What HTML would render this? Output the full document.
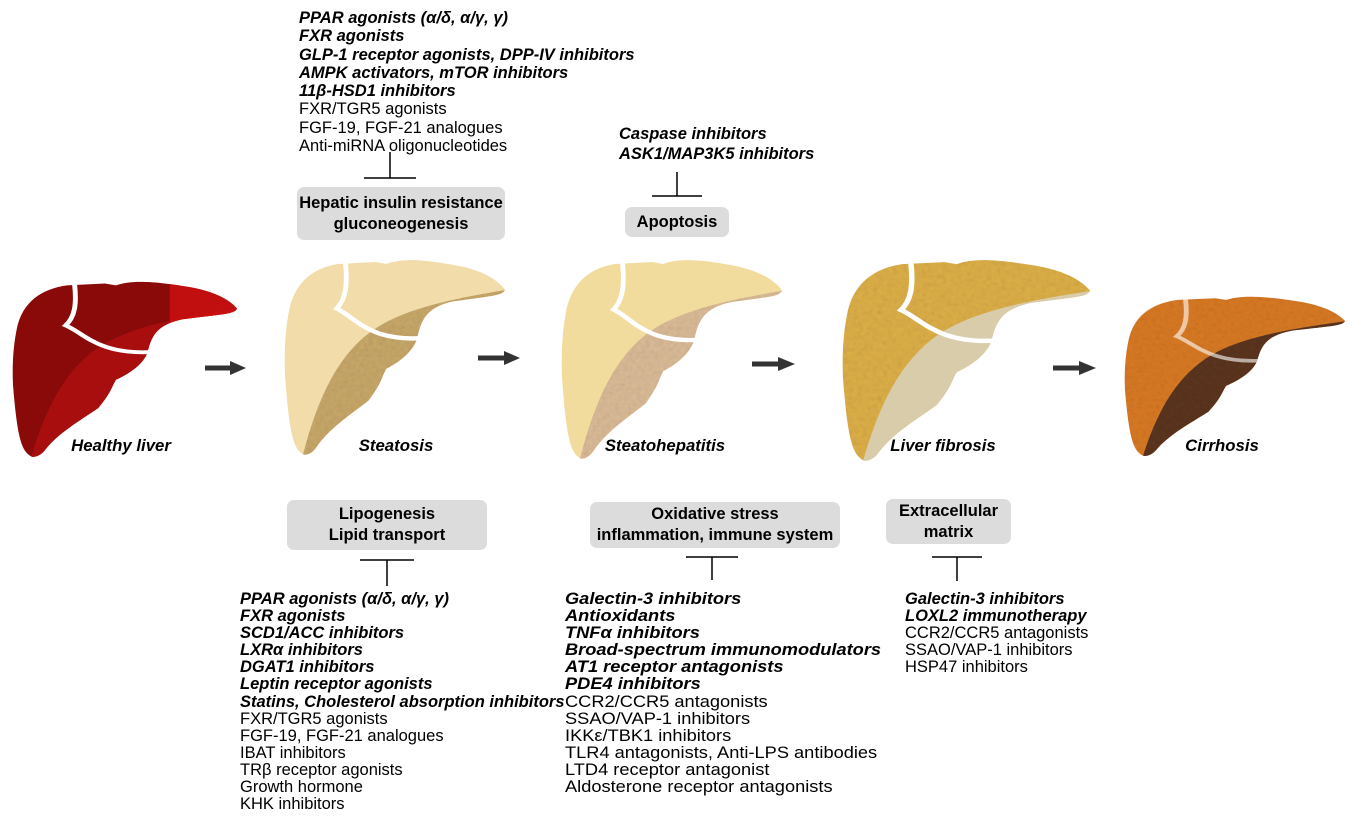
<!DOCTYPE html>
<html><head><meta charset="utf-8"><style>
body{margin:0;background:#fff;width:1363px;height:824px;position:relative;overflow:hidden;font-family:"Liberation Sans",Arial,sans-serif;color:#000}
.l{position:absolute;font-size:16.5px;line-height:17.5px;white-space:nowrap}
.b{font-weight:bold;font-style:italic}
.box{position:absolute;background:#dcdcdc;border-radius:7px;font-weight:bold;font-size:16.5px;line-height:21px;text-align:center;display:flex;align-items:center;justify-content:center;white-space:nowrap}
.lab{position:absolute;font-weight:bold;font-style:italic;font-size:16.8px;transform:translateX(-50%);white-space:nowrap}
</style></head><body>
<svg width="1363" height="824" style="position:absolute;left:0;top:0">
<defs>
<path id="lv" d="M16,280 C40,120 130,50 240,30 L410,20 L460,30 C520,5 600,0 790,40 C880,60 960,100 1000,160 C990,190 950,190 760,220 C650,250 620,300 600,410 C580,470 530,520 460,560 C440,600 440,630 380,720 C300,790 200,860 140,960 C120,990 90,1000 80,990 C40,960 20,900 0,590 C-5,450 5,350 16,280 Z"/>
<clipPath id="cl"><use href="#lv"/></clipPath>
<path id="low" d="M80,1000 C150,700 250,450 450,330 C600,240 800,200 1010,160 L1010,1010 L0,1010 Z"/>
<g id="lig"><path d="M275,25 C285,140 275,210 235,255 C320,300 380,420 620,405" fill="none" stroke="#fff" stroke-width="22"/></g>
<filter id="tx"><feTurbulence type="fractalNoise" baseFrequency="0.05" numOctaves="2" result="n"/><feColorMatrix type="saturate" values="0"/><feComponentTransfer><feFuncA type="linear" slope="0.35"/></feComponentTransfer><feComposite in2="SourceGraphic" operator="in"/><feBlend in2="SourceGraphic" mode="multiply"/></filter>
</defs>
<g transform="translate(13,280) scale(0.224,0.178)">
<use href="#lv" fill="#8a0a0a"/><g clip-path="url(#cl)"><use href="#low" fill="#a80e0e"/><rect x="700" y="0" width="320" height="250" fill="#d81010" opacity=".7"/></g><use href="#lig"/></g>
<g transform="translate(285,258) scale(0.22,0.198)">
<use href="#lv" fill="#f1dcaa"/><g clip-path="url(#cl)"><use href="#low" fill="#c9a96a" filter="url(#tx)"/></g><use href="#lig"/></g>
<g transform="translate(562,258) scale(0.22,0.202)">
<use href="#lv" fill="#f1dc9e"/><g clip-path="url(#cl)"><use href="#low" fill="#dcbc98" filter="url(#tx)"/></g><use href="#lig"/></g>
<g transform="translate(843,258) scale(0.247,0.204)">
<use href="#lv" fill="#deb048" filter="url(#tx)"/><g clip-path="url(#cl)"><use href="#low" fill="#d9ccaa"/></g><use href="#lig"/></g>
<g transform="translate(1125,295) scale(0.22,0.162)">
<use href="#lv" fill="#d97a25" filter="url(#tx)"/><g clip-path="url(#cl)"><use href="#low" fill="#5c3520" filter="url(#tx)"/></g><use href="#lig" opacity=".6"/></g>
<g fill="#333" stroke="#333">
<line x1="205" y1="368" x2="232" y2="368" stroke-width="5"/><polygon points="230,361 246,368 230,375" stroke="none"/>
<line x1="478" y1="358" x2="506" y2="358" stroke-width="5"/><polygon points="504,351 520,358 504,365" stroke="none"/>
<line x1="752" y1="364" x2="780" y2="364" stroke-width="5"/><polygon points="778,357 795,364 778,371" stroke="none"/>
<line x1="1053" y1="368" x2="1081" y2="368" stroke-width="5"/><polygon points="1079,361 1096,368 1079,375" stroke="none"/>
</g>
<g stroke="#000" stroke-width="1.5">
<line x1="390" y1="152" x2="390" y2="178"/><line x1="364" y1="178" x2="416" y2="178"/>
<line x1="677" y1="172" x2="677" y2="196"/><line x1="652" y1="196" x2="702" y2="196"/>
<line x1="387" y1="560" x2="387" y2="586"/><line x1="360" y1="560" x2="414" y2="560"/>
<line x1="712" y1="557" x2="712" y2="580"/><line x1="686" y1="557" x2="738" y2="557"/>
<line x1="957" y1="557" x2="957" y2="581"/><line x1="932" y1="557" x2="982" y2="557"/>
</g>
</svg>
<div class="box" style="left:297px;top:187px;width:208px;height:53px">Hepatic insulin resistance<br>gluconeogenesis</div>
<div class="box" style="left:625px;top:207px;width:104px;height:30px">Apoptosis</div>
<div class="box" style="left:287px;top:500px;width:200px;height:50px">Lipogenesis<br>Lipid transport</div>
<div class="box" style="left:590px;top:502px;width:250px;height:46px">Oxidative stress<br>inflammation, immune system</div>
<div class="box" style="left:886px;top:499px;width:125px;height:45px">Extracellular<br>matrix</div>
<div class="lab" style="left:121px;top:436px">Healthy liver</div>
<div class="lab" style="left:396px;top:436px">Steatosis</div>
<div class="lab" style="left:665px;top:436px">Steatohepatitis</div>
<div class="lab" style="left:943px;top:436px">Liver fibrosis</div>
<div class="lab" style="left:1222px;top:436px">Cirrhosis</div>
<div class="l" style="left:299px;top:9px;line-height:18.3px"><span class="b">PPAR agonists (α/δ, α/γ, γ)</span><br><span class="b">FXR agonists</span><br><span class="b">GLP-1 receptor agonists, DPP-IV inhibitors</span><br><span class="b">AMPK activators, mTOR inhibitors</span><br><span class="b">11β-HSD1 inhibitors</span><br>FXR/TGR5 agonists<br>FGF-19, FGF-21 analogues<br>Anti-miRNA oligonucleotides</div>
<div class="l" style="left:619px;top:124px;line-height:20px"><span class="b">Caspase inhibitors</span><br><span class="b">ASK1/MAP3K5 inhibitors</span></div>
<div class="l" style="left:240px;top:591px;line-height:17.1px"><span class="b">PPAR agonists (α/δ, α/γ, γ)</span><br><span class="b">FXR agonists</span><br><span class="b">SCD1/ACC inhibitors</span><br><span class="b">LXRα inhibitors</span><br><span class="b">DGAT1 inhibitors</span><br><span class="b">Leptin receptor agonists</span><br><span class="b">Statins, Cholesterol absorption inhibitors</span><br>FXR/TGR5 agonists<br>FGF-19, FGF-21 analogues<br>IBAT inhibitors<br>TRβ receptor agonists<br>Growth hormone<br>KHK inhibitors</div>
<div class="l" style="left:565px;top:591px;line-height:17.1px;transform:scaleX(1.105);transform-origin:0 0"><span class="b">Galectin-3 inhibitors</span><br><span class="b">Antioxidants</span><br><span class="b">TNFα inhibitors</span><br><span class="b">Broad-spectrum immunomodulators</span><br><span class="b">AT1 receptor antagonists</span><br><span class="b">PDE4 inhibitors</span><br>CCR2/CCR5 antagonists<br>SSAO/VAP-1 inhibitors<br>IKKε/TBK1 inhibitors<br>TLR4 antagonists, Anti-LPS antibodies<br>LTD4 receptor antagonist<br>Aldosterone receptor antagonists</div>
<div class="l" style="left:905px;top:591px;line-height:17.1px"><span class="b">Galectin-3 inhibitors</span><br><span class="b">LOXL2 immunotherapy</span><br>CCR2/CCR5 antagonists<br>SSAO/VAP-1 inhibitors<br>HSP47 inhibitors</div>
</body></html>
